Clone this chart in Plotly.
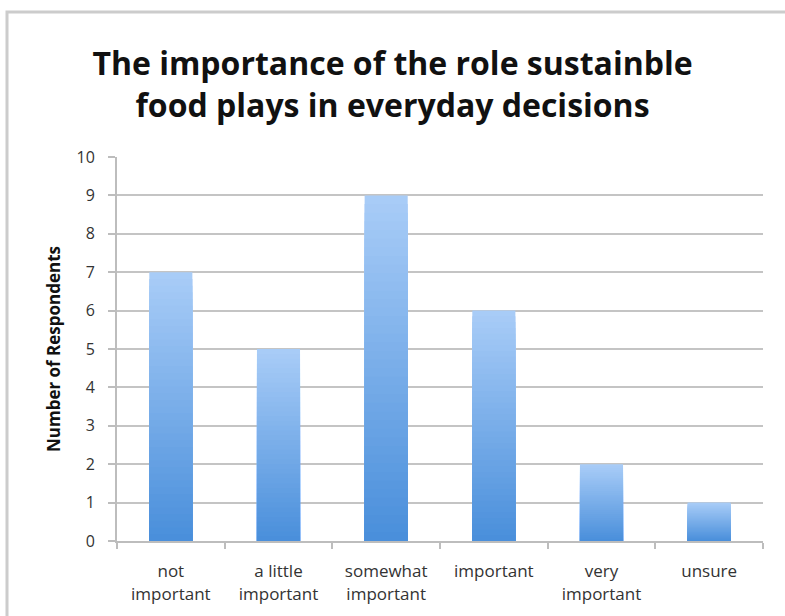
import plotly.graph_objects as go

categories = ["not<br>important", "a little<br>important", "somewhat<br>important",
              "important", "very<br>important", "unsure"]
respondents = [7, 5, 9, 6, 2, 1]
y_ticks = list(range(0, 11))

title_text = "The importance of the role sustainble<br>food plays in everyday decisions"
y_title = "Number of Respondents"

# gradient colours (top light -> bottom dark)
top_rgb = (168, 204, 247)
bot_rgb = (74, 143, 219)
N = 40

fig = go.Figure()
for k in range(N):
    frac = (N - k) / N
    t = k / (N - 1)
    c = tuple(round(top_rgb[i] + (bot_rgb[i] - top_rgb[i]) * t) for i in range(3))
    fig.add_trace(go.Bar(
        x=categories,
        y=[v * frac for v in respondents],
        marker=dict(color=f"rgb{c}", line=dict(width=0)),
        width=0.4,
        hoverinfo="skip" if k else None,
        showlegend=False,
    ))

W, H = 785, 616
ml, mr, mt, mb = 117, 22, 157, 75
pw, ph = W - ml - mr, H - mt - mb

def px_x(x):
    return (x - ml) / pw

def px_y(y):
    return (H - mb - y) / ph

fig.update_layout(
    width=W, height=H,
    margin=dict(l=ml, r=mr, t=mt, b=mb),
    barmode="overlay",
    plot_bgcolor="white",
    paper_bgcolor="white",
    font=dict(family="Open Sans, Lato, sans-serif", color="#222222"),
    title=dict(text="<b>" + title_text + "</b>", x=0.5, xanchor="center",
               y=1 - 75 / H, yanchor="middle",
               font=dict(size=32, color="#111111", family="Open Sans, Lato, sans-serif")),
    xaxis=dict(
        type="category",
        tickson="boundaries",
        ticks="outside", ticklen=6, tickcolor="#bdbdbd", tickwidth=2,
        showline=True, linecolor="#bdbdbd", linewidth=2,
        showgrid=False,
        ticklabelstandoff=14,
        tickfont=dict(size=17, color="#333333"),
    ),
    yaxis=dict(
        range=[0, 10],
        tickvals=y_ticks,
        ticks="outside", ticklen=7, tickcolor="#bdbdbd", tickwidth=2,
        showline=True, linecolor="#bdbdbd", linewidth=2,
        showgrid=True, gridcolor="#c4c4c4", gridwidth=2,
        zeroline=False,
        ticklabelstandoff=10,
        tickfont=dict(size=16, color="#333333"),
        title=dict(text="<b>" + y_title + "</b>", font=dict(size=17, color="#111111"), standoff=12),
    ),
    shapes=[dict(
        type="rect", xref="paper", yref="paper",
        x0=px_x(7), x1=px_x(800), y0=px_y(630), y1=px_y(12),
        line=dict(color="#cccccc", width=3), fillcolor="rgba(0,0,0,0)", layer="below",
    )],
)

fig.write_html("out.html")
